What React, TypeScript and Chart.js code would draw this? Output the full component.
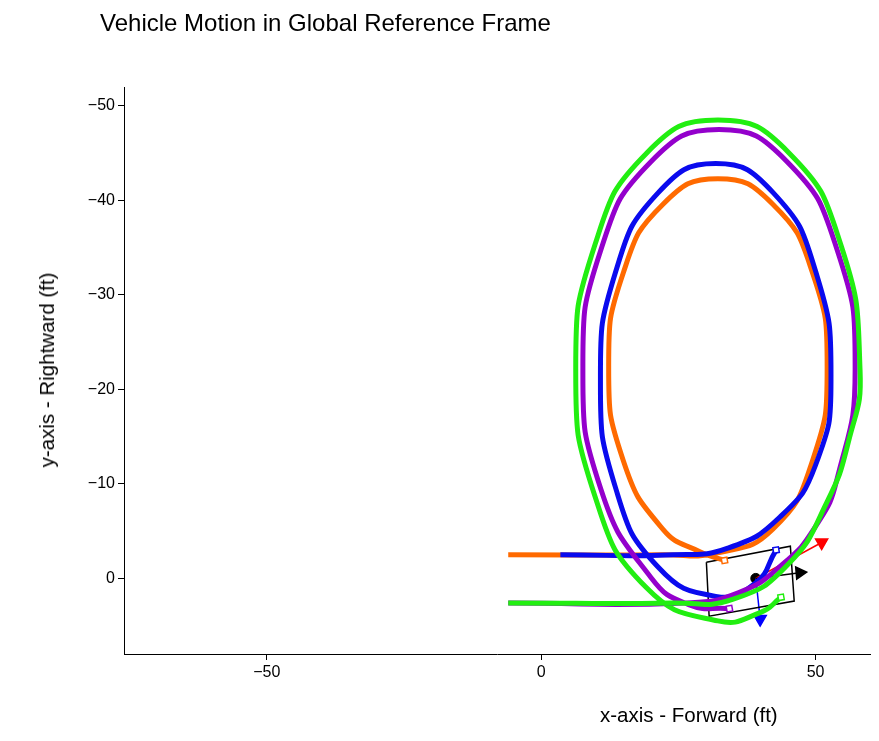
import { Chart, registerables, ChartConfiguration } from "chart.js";
import { useEffect, useRef } from "react";

Chart.register(...registerables);

const orangeX = [-6, 22, 32.2, 42.2, 49.4, 52.1, 49.4, 42.2, 32.2, 22.2, 15, 12.3, 15, 22.2, 29, 33.4];
const orangeY = [-2.5, -2.5, -2.7, -5.2, -12.4, -22.4, -32.4, -39.6, -42.3, -39.6, -32.4, -22.4, -12.4, -5.2, -2.8, -1.9];
const blueX = [3.5, 24, 34, 43.5, 50, 52.8, 50, 42.3, 31.8, 21.3, 13.6, 10.8, 13.6, 21.3, 31.8, 39, 42.8];
const blueY = [-2.5, -2.5, -3.2, -6.5, -12, -21, -32.5, -40.8, -43.9, -40.8, -32.5, -21, -9.5, -1.2, 1.9, 0.5, -3];
const greenX = [-6, 24, 35, 45, 52, 56, 58.1, 54.6, 45.2, 32.2, 19.2, 9.8, 6.3, 9.8, 19.2, 32.2, 40, 43.7];
const greenY = [2.6, 2.6, 2.2, -1.5, -8, -14.5, -22, -35.3, -45, -48.5, -45, -35.3, -22, -8.7, 1, 4.5, 3.6, 2];
const purpleX = [-6, 26, 36, 44, 50, 53.9, 57.2, 53.9, 44.8, 32.4, 20, 10.9, 7.6, 10.9, 20, 27, 34.3];
const purpleY = [2.6, 2.6, 1.5, -1.5, -5.5, -10.5, -22.1, -34.8, -44.1, -47.5, -44.1, -34.8, -22.1, -9.4, -0.1, 2.8, 3.2];
const bodyX = [30.1, 45.4, 46.1, 30.6, 30.1];
const bodyY = [-1.7, -3.4, 2.4, 4.0, -1.7];
const centerPt = { x: 39.1, y: 0 };
const arrowTips = [
  { x: 47.1, y: -0.6, color: "#000000", rot: 85 },
  { x: 51.1, y: -3.8, color: "#ff0000", rot: 60 },
  { x: 39.9, y: 4.3, color: "#0000ff", rot: 180 },
];
const xTicks = [-50, 0, 50];
const yTicks = [-50, -40, -30, -20, -10, 0];

const pts = (xs: number[], ys: number[]) => xs.map((x, i) => ({ x, y: ys[i] }));
const fmt = (v: number) => (v < 0 ? "\u2212" + Math.abs(v) : String(v));

function path(xs: number[], ys: number[], color: string) {
  const n = xs.length;
  return {
    data: pts(xs, ys),
    showLine: true,
    borderColor: color,
    borderWidth: 5,
    tension: 0.5,
    pointRadius: xs.map((_, i) => (i === n - 1 ? 4 : 0)),
    pointStyle: "rect",
    pointRotation: -10,
    pointBorderWidth: 1.5,
    pointBorderColor: color,
    pointBackgroundColor: "#ffffff",
  };
}

export default function App() {
  const ref = useRef<HTMLCanvasElement | null>(null);

  useEffect(() => {
    if (!ref.current) return;
    const font = { family: "'Liberation Sans', Arial, sans-serif", size: 16 };
    const datasets: any[] = [
      path(greenX, greenY, "#22ee11"),
      path(purpleX, purpleY, "#9400cc"),
      path(blueX, blueY, "#0a0aee"),
      path(orangeX, orangeY, "#ff6a00"),
      {
        data: pts(bodyX, bodyY),
        showLine: true,
        borderColor: "#000",
        borderWidth: 1.5,
        pointRadius: 0,
      },
      ...arrowTips.map((a) => ({
        data: [centerPt, { x: a.x, y: a.y }],
        showLine: true,
        borderColor: a.color,
        borderWidth: 1.5,
        pointRadius: [0, 7],
        pointStyle: "triangle",
        pointRotation: a.rot,
        pointBackgroundColor: a.color,
        pointBorderColor: a.color,
      })),
      {
        data: [centerPt],
        pointRadius: 5,
        pointBackgroundColor: "#000",
        pointBorderColor: "#000",
      },
    ];
    const config: ChartConfiguration = {
      type: "scatter",
      data: { datasets },
      options: {
        animation: false,
        responsive: false,
        layout: { padding: { top: 87, right: -7, bottom: 37, left: 0 } },
        plugins: { legend: { display: false }, tooltip: { enabled: false } },
        scales: {
          x: {
            type: "linear",
            min: -76,
            max: 60,
            afterBuildTicks: (ax: any) => {
              ax.ticks = xTicks.map((v) => ({ value: v }));
            },
            afterFit: (ax: any) => {
              ax.height = 50;
            },
            grid: { drawOnChartArea: false, tickLength: 6, color: "#000" },
            border: { color: "#000", width: 1 },
            ticks: { color: "#000", font, callback: (v: any) => fmt(Number(v)) },
          },
          y: {
            type: "linear",
            reverse: true,
            min: -52,
            max: 8,
            afterBuildTicks: (ax: any) => {
              ax.ticks = yTicks.map((v) => ({ value: v }));
            },
            afterFit: (ax: any) => {
              ax.width = 124;
            },
            grid: { drawOnChartArea: false, tickLength: 6, color: "#000" },
            border: { color: "#000", width: 1 },
            ticks: { color: "#000", font, callback: (v: any) => fmt(Number(v)) },
          },
        },
      },
    };
    const chart = new Chart(ref.current, config);
    return () => chart.destroy();
  }, []);

  const textFont = "'Liberation Sans', Arial, sans-serif";
  return (
    <div style={{ position: "fixed", left: 0, top: 0, width: 879, height: 741, background: "#fff" }}>
      <canvas ref={ref} width={879} height={741} style={{ position: "absolute", left: 0, top: 0 }} />
      <div style={{ position: "absolute", left: 100, top: 9, fontFamily: textFont, fontSize: 24, color: "#000" }}>
        Vehicle Motion in Global Reference Frame
      </div>
      <div style={{ position: "absolute", left: 600, top: 703, fontFamily: textFont, fontSize: 20.5, color: "#000" }}>
        x-axis - Forward (ft)
      </div>
      <div
        style={{
          position: "absolute",
          left: 47,
          top: 370,
          transform: "translate(-50%, -50%) rotate(-90deg)",
          whiteSpace: "nowrap",
          fontFamily: textFont,
          fontSize: 20.5,
          color: "#000",
        }}
      >
        y-axis - Rightward (ft)
      </div>
    </div>
  );
}
